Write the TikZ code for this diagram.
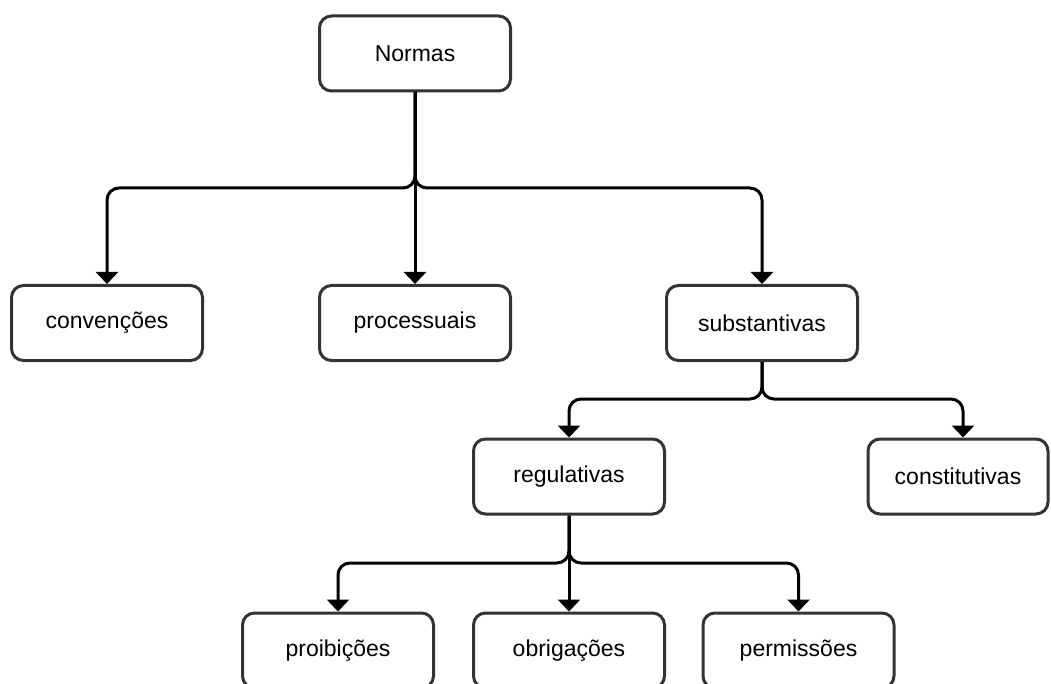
\documentclass[tikz,border=0pt]{standalone}
\usepackage{fontspec}
\setmainfont{Liberation Sans}
\usetikzlibrary{arrows.meta}
\begin{document}
\begin{tikzpicture}[x=1pt,y=-1pt,
  box/.style={draw=black!80, line width=3pt, rounded corners=12pt, fill=white,
    minimum width=191pt, minimum height=75pt, inner sep=0pt,
    font=\fontsize{23}{27}\selectfont},
  conn/.style={draw=black, line width=3pt, rounded corners=12pt,
    -{Triangle[width=22pt,length=12pt]}}]
  \clip (0,0) rectangle (1051,684);
  \useasboundingbox (0,0) rectangle (1051,684);

  % hierarchy of norms
  \node[box] (normas) at (415,53.5) {Normas};
  \node[box] (conv) at (107,323) {convenções};
  \node[box] (proc) at (415,323) {processuais};
  \node[box] (subst) at (762,323) {substantivas};
  \node[box] (reg) at (569,476.5) {regulativas};
  \node[box, minimum width=180pt] (const) at (958,476.5) {constitutivas};
  \node[box] (proib) at (338,650.5) {proibições};
  \node[box] (obrig) at (569,650.5) {obrigações};
  \node[box] (perm) at (798.5,650.5) {permissões};

  % junction points of the branching connectors
  \coordinate (j1) at (415,188);
  \coordinate (j2) at (762,399);
  \coordinate (j3) at (569,563);

  \draw[conn] (normas.south) -- (j1) -| (conv.north);
  \draw[conn] (normas.south) -- (proc.north);
  \draw[conn] (normas.south) -- (j1) -| (subst.north);

  \draw[conn] (subst.south) -- (j2) -| (reg.north);
  \draw[conn] (subst.south) -- (j2) -| ([xshift=5pt]const.north);

  \draw[conn] (reg.south) -- (j3) -| (proib.north);
  \draw[conn] (reg.south) -- (obrig.north);
  \draw[conn] (reg.south) -- (j3) -| (perm.north);
\end{tikzpicture}
\end{document}
